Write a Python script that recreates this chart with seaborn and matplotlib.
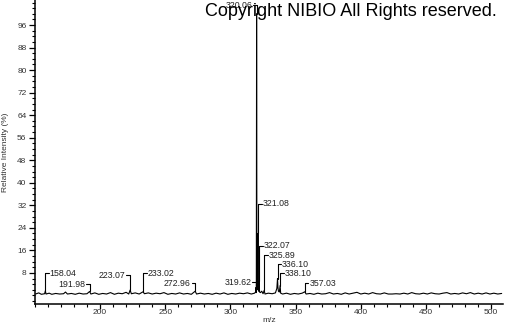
import matplotlib
matplotlib.use("Agg")
import matplotlib.pyplot as plt
import seaborn as sns
import pandas as pd
from matplotlib.ticker import MultipleLocator

# ---------------- data ----------------
mz = [150.5, 153, 155, 157.5, 158.04, 158.6, 161, 163, 166, 169, 172, 173.5, 175, 178, 181, 184, 187, 190,
      191.98, 193, 196, 199, 202, 205, 208, 211, 214, 217, 220, 222, 223.07, 224, 227, 230, 233.02, 234,
      237, 240, 243, 246, 249, 252, 255, 258, 261, 264, 267, 270, 272.96, 274, 277, 280, 283, 286, 289,
      292, 295, 298, 301, 304, 307, 310, 313, 316, 318.5, 319.3, 319.62, 319.85, 320.0, 320.06, 320.15,
      320.3, 320.6, 320.9, 321.08, 321.25, 321.7, 322.07, 322.3, 323, 324, 325, 325.89, 326.5, 329, 332,
      334.5, 335.6, 336.10, 336.4, 336.8, 337.5, 338.10, 338.5, 340, 343, 346, 349, 352, 355, 357.03, 358,
      361, 364, 367, 370, 373, 376, 379, 382, 385, 388, 391, 394, 397, 400, 403, 406, 409, 412, 415, 418,
      421, 424, 427, 430, 433, 436, 439, 442, 445, 448, 451, 454, 457, 460, 463, 466, 469, 472, 475, 478,
      481, 484, 487, 490, 493, 496, 499, 502, 505, 508]
intensity = [0.5, 0.9, 0.4, 0.6, 1.6, 0.5, 0.8, 0.4, 0.7, 0.5, 0.6, 1.2, 0.5, 0.7, 0.4, 0.8, 0.5, 0.6,
             1.4, 0.5, 0.9, 0.4, 0.7, 0.5, 1.0, 0.4, 0.8, 0.6, 1.1, 0.5, 1.9, 0.6, 0.9, 0.5, 1.3, 0.6,
             0.9, 0.5, 0.8, 0.6, 1.0, 0.4, 0.7, 0.5, 0.9, 0.5, 0.7, 0.4, 1.5, 0.5, 0.8, 0.5, 0.7, 0.4, 0.8,
             0.5, 0.9, 0.4, 0.7, 0.5, 0.8, 0.6, 0.9, 0.5, 0.8, 1.2, 2.8, 1.0, 55, 100, 64,
             8, 2, 4, 22, 3, 1.5, 5, 1.2, 1.0, 1.5, 0.6, 1.8, 0.5, 0.8, 0.6,
             0.9, 2.5, 6, 3, 1.5, 1.2, 3.5, 0.8, 0.5, 0.8, 0.4, 0.7, 0.5, 0.8, 1.3, 0.5,
             0.7, 0.4, 0.8, 0.5, 0.6, 1.0, 0.5, 0.7, 0.4, 0.9, 0.5, 0.8, 1.1, 0.5, 0.8, 0.5, 1.0, 0.6, 0.5, 0.9,
             0.5, 0.5, 0.6, 0.5, 0.8, 0.5, 1.0, 0.6, 0.5, 0.8, 0.5, 0.9, 0.6, 0.5, 0.8, 1.0, 0.5, 0.7, 0.5, 0.9,
             0.6, 1.0, 0.5, 0.8, 0.5, 0.9, 0.5, 0.8, 0.5, 0.7]

peak_mz = [158.04, 191.98, 223.07, 233.02, 272.96, 319.62, 320.06, 321.08, 322.07, 325.89, 336.10, 338.10, 357.03]
peak_int = [1.6, 1.4, 1.9, 1.3, 1.5, 2.8, 100, 22, 5, 1.8, 6, 3.5, 1.3]

x_ticks = [200, 250, 300, 350, 400, 450, 500]
y_ticks = [8, 16, 24, 32, 40, 48, 56, 64, 72, 80, 88, 96]

# ---------------- layout (label placement) ----------------
label_y = [7.9, 3.9, 7.2, 7.9, 4.3, 4.7, 103.0, 32.6, 17.6, 14.3, 11.1, 7.9, 4.3]
label_side = ['r', 'l', 'l', 'r', 'l', 'l', 'l', 'r', 'r', 'r', 'r', 'r', 'r']

df = pd.DataFrame({"mz": mz, "intensity": intensity})

sns.set_style("white")
plt.rcParams['font.family'] = ['Liberation Sans', 'DejaVu Sans']

fig = plt.figure(figsize=(5.05, 3.25), dpi=100)
ax = fig.add_axes([0.069, 0.065, 0.927, 0.935])

sns.lineplot(data=df, x="mz", y="intensity", ax=ax, color="black", linewidth=0.8,
             estimator=None, sort=False)

ax.set_xlim(150, 509)
ax.set_ylim(-3.0, 104.9)
ax.set_xticks(x_ticks)
ax.set_yticks(y_ticks)
ax.xaxis.set_minor_locator(MultipleLocator(10))
ax.yaxis.set_minor_locator(MultipleLocator(2))
ax.tick_params(axis='both', which='major', direction='out', length=4, width=0.9,
               labelsize=6, labelcolor='#333333', color='black', pad=2)
ax.tick_params(axis='both', which='minor', direction='out', length=2.2, width=0.8, color='black')
ax.tick_params(axis='x', which='major', length=3.5, pad=0.5)
ax.tick_params(bottom=True, left=True, which='both')

for s in ['top', 'right']:
    ax.spines[s].set_visible(False)
for s in ['left', 'bottom']:
    ax.spines[s].set_color('black')
    ax.spines[s].set_linewidth(1.1)

ax.set_xlabel("m/z", fontsize=6, color='#333333', labelpad=0.5)
ax.set_ylabel("Relative Intensity (%)", fontsize=6, color='#333333', labelpad=6)

# peak labels with leader lines
lead = 2.8
for m, h, ly, side in zip(peak_mz, peak_int, label_y, label_side):
    txt = f"{m:.2f}"
    if side == 'r':
        ax.plot([m, m], [h, ly], color='black', lw=0.8)
        ax.plot([m, m + lead], [ly, ly], color='black', lw=0.8)
        ax.text(m + lead + 0.6, ly, txt, fontsize=6.3, color='#222222', ha='left', va='center')
    else:
        ax.plot([m, m], [h, ly], color='black', lw=0.8)
        ax.plot([m - lead, m], [ly, ly], color='black', lw=0.8)
        ax.text(m - lead - 0.6, ly, txt, fontsize=6.3, color='#222222', ha='right', va='center')

fig.text(497 / 505, 1 - 3 / 325, "Copyright NIBIO All Rights reserved.", fontsize=13,
         color='black', ha='right', va='top', family=['Liberation Sans', 'DejaVu Sans'])

fig.savefig("out.png", dpi=100)
